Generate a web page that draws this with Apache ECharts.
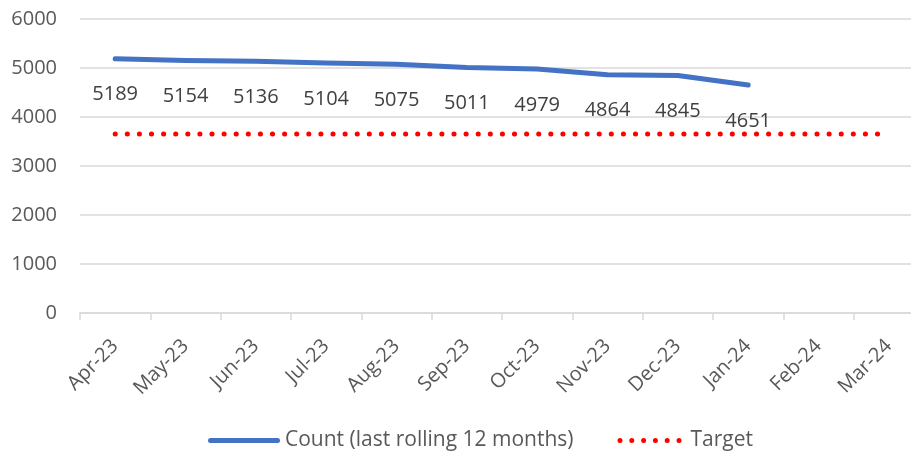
<!DOCTYPE html>
<html>
<head>
<meta charset="utf-8">
<script src="https://cdn.jsdelivr.net/npm/echarts@6/dist/echarts.min.js"></script>
<style>
  html, body { margin: 0; padding: 0; background: #fff; }
  #main { width: 911px; height: 451px; }
</style>
</head>
<body>
<div id="main"></div>
<script>
// months along the x axis
var months = ['Apr-23', 'May-23', 'Jun-23', 'Jul-23', 'Aug-23', 'Sep-23',
              'Oct-23', 'Nov-23', 'Dec-23', 'Jan-24', 'Feb-24', 'Mar-24'];
// rolling 12 month count (no data yet for Feb/Mar)
var counts = [5189, 5154, 5136, 5104, 5075, 5011, 4979, 4864, 4845, 4651];
// target, flat across the year
var target = [3655, 3655, 3655, 3655, 3655, 3655, 3655, 3655, 3655, 3655, 3655, 3655];
var yTicks = [0, 1000, 2000, 3000, 4000, 5000, 6000];

var font = '"Open Sans", "DejaVu Sans", sans-serif';
var grey = '#595959';

// legend icons: solid bar and a row of dots
var barIcon = 'path://M2.5,0 L69.5,0 A2.5,2.5 0 0,1 69.5,5 L2.5,5 A2.5,2.5 0 0,1 2.5,0 Z';
var dotIcon = 'path://';
for (var i = 0; i < 6; i++) {
  var cx = 2.5 + i * 11.8;
  dotIcon += 'M' + (cx - 2.5) + ',2.5 a2.5,2.5 0 1,0 5,0 a2.5,2.5 0 1,0 -5,0 ';
}

var myChart = echarts.init(document.getElementById('main'));
var option = {
  animation: false,
  textStyle: { fontFamily: font },
  grid: { left: 80, width: 844, top: 19, bottom: 138, outerBoundsMode: 'none', containLabel: false },
  legend: {
    bottom: -5,
    left: 203,
    itemWidth: 72,
    itemHeight: 5,
    itemGap: 44,
    textStyle: { fontSize: 21, color: grey, fontFamily: font },
    data: [
      { name: 'Count (last rolling 12 months)', icon: barIcon, itemStyle: { color: '#4472c4', opacity: 1 } },
      { name: 'Target', icon: dotIcon, itemStyle: { color: '#ff0000', opacity: 1 } }
    ]
  },
  xAxis: {
    type: 'category',
    data: months,
    boundaryGap: true,
    axisLine: { lineStyle: { color: '#d9d9d9', width: 1.5 } },
    axisTick: { show: true, length: 7, lineStyle: { color: '#d9d9d9', width: 1.5 } },
    axisLabel: { rotate: 45, fontSize: 20, color: grey, margin: 30, fontFamily: font, hideOverlap: false }
  },
  yAxis: {
    type: 'value',
    min: yTicks[0],
    max: yTicks[yTicks.length - 1],
    interval: 1000,
    axisLine: { show: false },
    axisTick: { show: false },
    splitLine: { lineStyle: { color: '#d9d9d9', width: 1.5 } },
    axisLabel: {
      fontSize: 20, color: grey, margin: 23, fontFamily: font,
      formatter: function (v) { return String(v); }
    }
  },
  series: [
    {
      name: 'Count (last rolling 12 months)',
      type: 'line',
      data: counts,
      symbol: 'circle',
      symbolSize: 2,
      showSymbol: true,
      showAllSymbol: true,
      lineStyle: { color: '#4472c4', width: 5, cap: 'round', join: 'round' },
      itemStyle: { color: '#4472c4' },
      label: {
        show: true,
        position: 'bottom',
        distance: 25,
        fontSize: 20,
        color: '#404040',
        fontFamily: font
      },
      labelLayout: { hideOverlap: false },
      z: 3
    },
    {
      name: 'Target',
      type: 'line',
      data: target,
      symbol: 'none',
      lineStyle: { color: '#ff0000', width: 5, type: [0.1, 12], cap: 'round' },
      itemStyle: { color: '#ff0000' },
      z: 2
    }
  ]
};
myChart.setOption(option);
</script>
</body>
</html>
